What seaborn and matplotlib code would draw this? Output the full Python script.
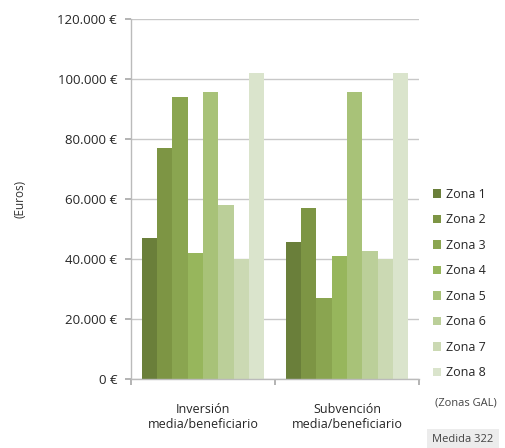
import matplotlib
matplotlib.use("Agg")
import matplotlib.pyplot as plt
import seaborn as sns
import pandas as pd

categories = ["Inversión\nmedia/beneficiario", "Subvención\nmedia/beneficiario"]
zones = ["Zona 1", "Zona 2", "Zona 3", "Zona 4", "Zona 5", "Zona 6", "Zona 7", "Zona 8"]
inversion = [47000, 77000, 94000, 42000, 95500, 58000, 40000, 102000]
subvencion = [45500, 57000, 27000, 41000, 95500, 42500, 40000, 102000]
yticks = [0, 20000, 40000, 60000, 80000, 100000, 120000]
ytick_labels = ["0 €", "20.000 €", "40.000 €", "60.000 €", "80.000 €", "100.000 €", "120.000 €"]
colors = ["#6a7f3a", "#7d9544", "#8aa550", "#97b65c", "#a8c278", "#bbcf99", "#cbd9b3", "#dae4cc"]

rows = []
for z, v in zip(zones, inversion):
    rows.append({"cat": categories[0], "zona": z, "val": v})
for z, v in zip(zones, subvencion):
    rows.append({"cat": categories[1], "zona": z, "val": v})
df = pd.DataFrame(rows)

sns.set_theme(style="white")
plt.rcParams["font.family"] = ["Open Sans", "DejaVu Sans"]

fig = plt.figure(figsize=(5.06, 4.48), dpi=100)
ax = fig.add_axes([131/506, (448-379)/448, (419-131)/506, (379-19)/448])

sns.barplot(data=df, x="cat", y="val", hue="zona", palette=colors, ax=ax,
            width=0.85, saturation=1, edgecolor="none", legend=True)

ax.set_ylim(0, 120000)
ax.set_xlim(-0.5, 1.5)
ax.set_yticks(yticks)
ax.set_yticklabels(ytick_labels, fontsize=9.5, color="#262626")
ax.yaxis.grid(True, color="#c8c8c8", linewidth=1)
ax.set_axisbelow(True)
ax.set_xlabel("")
ax.set_ylabel("(Euros)", fontsize=8.5, color="#333333", labelpad=22)

ax.set_xticks([-0.5, 0.5, 1.5], minor=False)
ax.set_xticklabels([])
ax.set_xticks([0, 1], minor=True)
ax.set_xticklabels(categories, minor=True, fontsize=9, color="#262626")
ax.tick_params(axis="x", which="major", length=4, color="#aaaaaa", direction="out", bottom=True)
ax.tick_params(axis="x", which="minor", length=0, pad=17)
ax.tick_params(axis="y", length=4, color="#aaaaaa", direction="out", left=True, pad=6)

for s in ["top", "right"]:
    ax.spines[s].set_visible(False)
for s in ["left", "bottom"]:
    ax.spines[s].set_color("#bbbbbb")
    ax.spines[s].set_linewidth(1)

leg = ax.legend(loc="upper left", bbox_to_anchor=(1.03, 0.545), frameon=False,
                fontsize=9, handlelength=0.7, handleheight=0.7,
                labelspacing=1.0, handletextpad=0.4, borderaxespad=0)
for t in leg.get_texts():
    t.set_color("#262626")

fig.text(466/506, 1 - 403/448, "(Zonas GAL)", fontsize=8, color="#444444",
         ha="center", va="center")
fig.text(463/506, 1 - 439/448, "Medida 322", fontsize=8, color="#444444",
         ha="center", va="center",
         bbox=dict(boxstyle="square,pad=0.45", facecolor="#ececec", edgecolor="none"))

fig.savefig("out.png", dpi=100)
